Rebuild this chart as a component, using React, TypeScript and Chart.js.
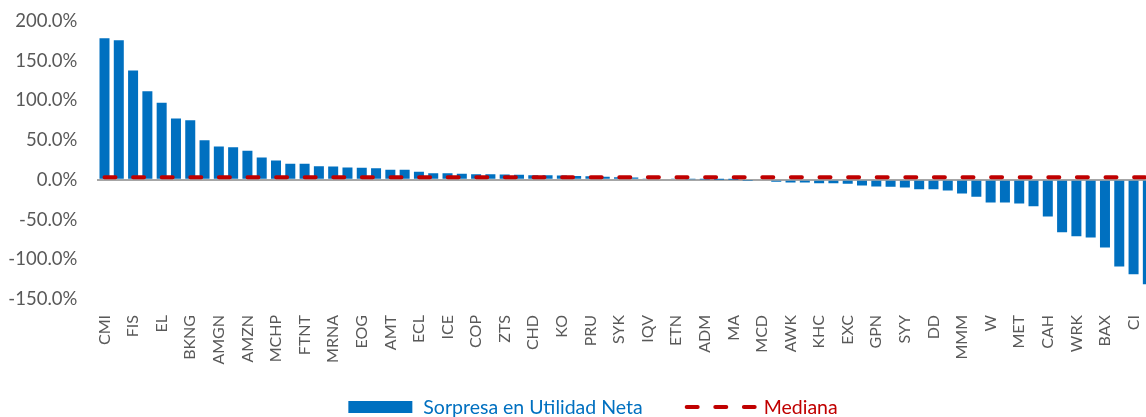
import React, { useEffect, useRef } from "react";
import { Chart, registerables } from "chart.js";

Chart.register(...registerables);

// Tickers shown on the axis (every other category is labelled)
const TICKERS = [
  "CMI", "FIS", "EL", "BKNG", "AMGN", "AMZN", "MCHP", "FTNT", "MRNA", "EOG",
  "AMT", "ECL", "ICE", "COP", "ZTS", "CHD", "KO", "PRU", "SYK", "IQV",
  "ETN", "ADM", "MA", "MCD", "AWK", "KHC", "EXC", "GPN", "SYY", "DD",
  "MMM", "W", "MET", "CAH", "WRK", "BAX", "CI",
];

// Net income surprise (%) per company, sorted descending
const SURPRISE = [
  178.4, 175.9, 137.7, 111.7, 97.0, 77.2, 75.1, 50.0, 42.0, 41.1,
  36.5, 28.1, 24.3, 20.2, 20.2, 17.2, 16.8, 15.5, 15.1, 14.7,
  12.6, 12.6, 10.1, 8.4, 8.4, 7.6, 7.1, 7.1, 6.7, 6.3,
  5.9, 5.9, 5.5, 5.0, 4.6, 3.8, 3.4, 2.9, 1.7, 1.5,
  1.2, 0.8, 0.4, 0.2, 0.1, -0.4, -1.0, -2.5, -3.4, -3.4,
  -4.2, -4.2, -5.0, -7.1, -8.4, -8.8, -9.7, -11.8, -11.8, -13.4,
  -17.2, -21.4, -28.5, -28.5, -29.8, -33.2, -46.2, -65.9, -70.9, -72.6,
  -85.2, -109.1, -118.8, -131.4,
];

const MEDIAN = 3.4;

const Y_MIN = -150;
const Y_MAX = 200;
const Y_STEP = 50;

const SERIES_NAMES = ["Sorpresa en Utilidad Neta", "Mediana"];

const CATEGORIES = SURPRISE.map((_, i) => (i % 2 === 0 ? TICKERS[i / 2] ?? "" : ""));
const MEDIAN_SERIES = SURPRISE.map(() => MEDIAN);

const BLUE = "#0070C0";
const RED = "#C00000";
const GRAY_TEXT = "#595959";
const FONT = "Lato, 'Open Sans', sans-serif";

const W = 1186;
const H = 417;
const DASH = [11, 17.6];

// Legend drawn on the canvas below the axis labels
const legendPlugin = {
  id: "bottomLegend",
  afterDraw(chart: any) {
    const ctx = chart.ctx as CanvasRenderingContext2D;
    ctx.save();
    ctx.font = `19.5px ${FONT}`;
    ctx.textBaseline = "middle";
    ctx.textAlign = "left";
    const boxW = 64;
    const boxH = 12;
    const gapBoxText = 11;
    const gapItems = 42;
    const lineW = 72;
    const gapLineText = 7;
    const t1 = ctx.measureText(SERIES_NAMES[0]).width;
    const t2 = ctx.measureText(SERIES_NAMES[1]).width;
    const total = boxW + gapBoxText + t1 + gapItems + lineW + gapLineText + t2;
    let x = chart.width / 2 - total / 2;
    const y = 407;
    ctx.fillStyle = BLUE;
    ctx.fillRect(x, y - boxH / 2, boxW, boxH);
    x += boxW + gapBoxText;
    ctx.fillText(SERIES_NAMES[0], x, y + 1);
    x += t1 + gapItems;
    ctx.strokeStyle = RED;
    ctx.lineWidth = 4;
    ctx.lineCap = "round";
    ctx.setLineDash(DASH);
    ctx.beginPath();
    ctx.moveTo(x + 2, y);
    ctx.lineTo(x + lineW - 2, y);
    ctx.stroke();
    ctx.setLineDash([]);
    x += lineW + gapLineText;
    ctx.fillStyle = RED;
    ctx.fillText(SERIES_NAMES[1], x, y + 1);
    ctx.restore();
  },
};

export default function App() {
  const ref = useRef<HTMLCanvasElement | null>(null);

  useEffect(() => {
    document.body.style.margin = "0";
    document.body.style.overflow = "hidden";
    const canvas = ref.current;
    if (!canvas) return;
    const chart = new Chart(canvas, {
      type: "bar",
      data: {
        labels: CATEGORIES,
        datasets: [
          {
            type: "bar",
            label: SERIES_NAMES[0],
            data: SURPRISE,
            backgroundColor: BLUE,
            borderWidth: 0,
            barPercentage: 0.7,
            categoryPercentage: 1,
            order: 1,
          },
          {
            type: "line",
            label: SERIES_NAMES[1],
            data: MEDIAN_SERIES,
            borderColor: RED,
            backgroundColor: RED,
            borderWidth: 4,
            borderDash: DASH,
            borderCapStyle: "round",
            pointRadius: 0,
            fill: false,
            order: 0,
          } as any,
        ],
      },
      plugins: [legendPlugin],
      options: {
        responsive: false,
        animation: false,
        layout: { padding: { top: 21, left: 0, right: 0, bottom: 38 } },
        plugins: {
          tooltip: { enabled: false },
          legend: { display: false },
        },
        scales: {
          x: {
            grid: { display: false },
            border: { display: false },
            ticks: {
              autoSkip: false,
              maxRotation: 90,
              minRotation: 90,
              padding: 8,
              color: GRAY_TEXT,
              font: { family: FONT, size: 16 },
            },
            afterFit: (s: any) => {
              s.height = 80;
            },
          },
          y: {
            min: Y_MIN,
            max: Y_MAX,
            ticks: {
              stepSize: Y_STEP,
              padding: 0,
              color: GRAY_TEXT,
              font: { family: FONT, size: 18.5 },
              callback: (v: any) => Number(v).toFixed(1) + "%",
            },
            grid: {
              drawTicks: true,
              tickLength: 20,
              tickColor: "rgba(0,0,0,0)",
              lineWidth: 2,
              color: (ctx: any) => (ctx.tick && ctx.tick.value === 0 ? "#A6A6A6" : "rgba(0,0,0,0)"),
            },
            border: { display: false },
            afterFit: (s: any) => {
              s.width = 97.35;
            },
          },
          y2: {
            position: "right",
            display: true,
            grid: { display: false },
            border: { display: false },
            ticks: { display: false },
            afterFit: (s: any) => {
              s.width = 31;
            },
          },
        },
      } as any,
    });
    return () => chart.destroy();
  }, []);

  return (
    <div style={{ position: "absolute", left: 0, top: 0, width: W, height: H }}>
      <canvas ref={ref} width={W} height={H} style={{ width: W, height: H, display: "block" }} />
    </div>
  );
}
